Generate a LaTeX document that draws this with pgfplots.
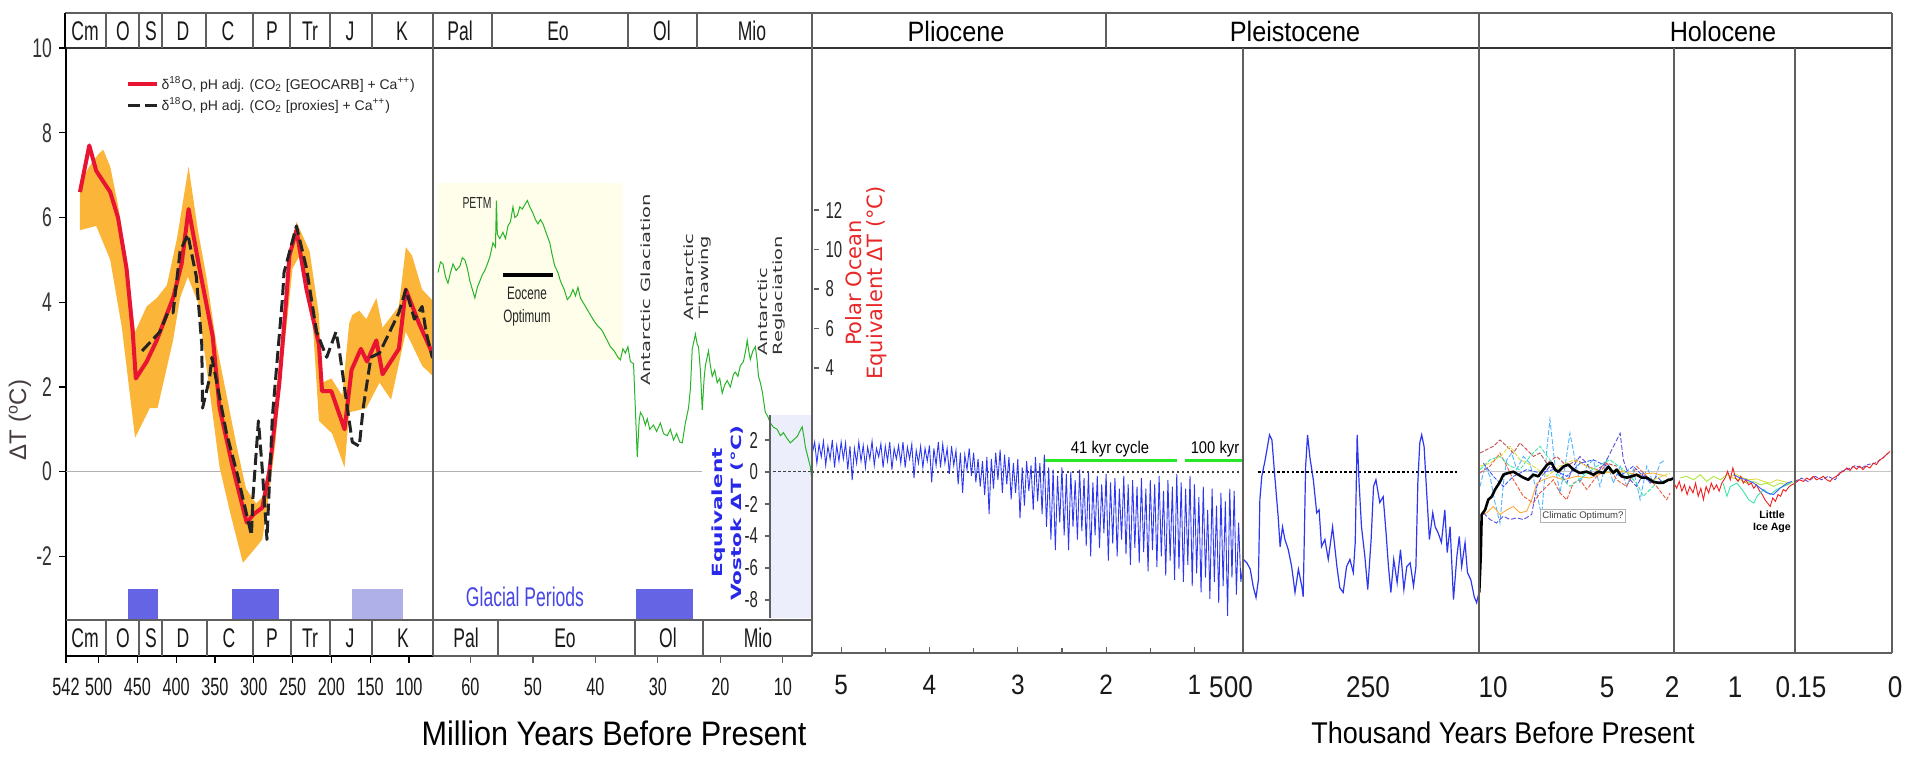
\documentclass[border=0pt]{standalone}
\usepackage{fontspec}
\setmainfont{Liberation Sans}
\newfontfamily\narrow[FakeStretch=0.65]{Liberation Sans}
\newfontfamily\med[FakeStretch=0.87]{Liberation Sans}
\newfontfamily\tit[FakeStretch=0.9]{Liberation Sans}
\newfontfamily\dejavu{DejaVu Sans}
\usepackage{graphicx}
\usepackage{pgfplots}
\pgfplotsset{compat=1.18}

\definecolor{fr}{RGB}{95,95,95}
\definecolor{redl}{RGB}{232,20,50}
\definecolor{band}{RGB}{251,182,58}
\definecolor{dashk}{RGB}{35,35,35}
\definecolor{grn}{RGB}{40,180,40}
\definecolor{glac}{RGB}{100,100,228}
\definecolor{glacl}{RGB}{176,176,232}
\definecolor{vblue}{RGB}{45,55,240}
\definecolor{ltyel}{RGB}{254,254,234}
\definecolor{ltblue}{RGB}{236,238,252}
\definecolor{lbl}{RGB}{40,40,235}
\definecolor{polred}{RGB}{232,40,40}
\definecolor{kyrg}{RGB}{40,230,40}
\definecolor{cA}{RGB}{80,180,255}
\definecolor{cB}{RGB}{190,80,80}
\definecolor{cC}{RGB}{240,90,60}
\definecolor{cD}{RGB}{255,170,60}
\definecolor{cE}{RGB}{90,80,220}
\definecolor{cF}{RGB}{60,230,170}
\definecolor{cG}{RGB}{220,220,60}
\definecolor{cH}{RGB}{60,90,255}
\definecolor{cI}{RGB}{240,30,30}
\definecolor{cJ}{RGB}{170,230,60}

\pgfplotsset{
  panel/.style={scale only axis, anchor=south west, axis x line=bottom,
    x axis line style={-, draw=fr, line width=0.7pt}, x dir=reverse,
    /pgf/number format/assume math mode=true,
    tick style={fr, line width=0.6pt}},
  noy/.style={axis y line=none, ytick=\empty},
  toppanel/.style={panel, ymin=-4.35, ymax=10, height=304pt},
  rpanel/.style={panel, noy, ymin=-4.279, ymax=10, height=302.5pt, xtick=\empty},
  canvas/.style={at={(0pt,0pt)}, anchor=south west, scale only axis, width=952.5pt, height=381pt,
    xmin=0, xmax=1905, ymin=0, ymax=762, y dir=reverse, hide axis, clip=false},
  dotz/.style={black!75, line width=0.8pt, dash pattern=on 1.2pt off 1.3pt},
  prox/.style={line width=0.45pt},
}
\tikzset{
  hdr/.style={font=\narrow\fontsize{13.5}{14}\selectfont, inner sep=0pt, text=black!90},
  big/.style={font=\med\fontsize{15}{16}\selectfont, inner sep=0pt, text=black!90},
}

\begin{document}
\begin{tikzpicture}
\path[use as bounding box] (0pt,0pt) rectangle (952.5pt,381pt);

% background fills
\begin{axis}[canvas]
\fill[ltyel] (axis cs:437,183) rectangle (axis cs:623,360);
\fill[ltblue] (axis cs:770,415) rectangle (axis cs:812,618);
\end{axis}

% ---------------- Panel 1: 542-65 Ma ----------------
\begin{axis}[toppanel, at={(33pt,53pt)}, width=183.5pt, xmin=69, xmax=542,
  axis y line=left, y axis line style={-, black, line width=1pt},
  x axis line style={-, black, line width=1pt},
  xtick={100,150,...,500,542}, ytick={-2,0,...,10}, tick align=outside, major tick length=3.5pt,
  tick style={black, line width=0.6pt},
  ticklabel style={font=\narrow\fontsize{12.5}{13}\selectfont, text=black!90},
  yticklabel style={font=\narrow\fontsize{13.5}{14}\selectfont, text=black!80},
  xticklabel style={yshift=-4pt},
  legend style={at={(0.163,0.958)}, anchor=north west, draw=none, fill=none, inner sep=0pt,
    font=\fontsize{7}{8}\selectfont, text=black!85, nodes={inner sep=1.2pt}},
  legend cell align=left,
  legend image code/.code={\draw[#1] (0pt,0pt) -- (14.5pt,0pt);}]
\addplot[forget plot, gray!60, line width=0.6pt] coordinates {(542,0) (69,0)};
\addplot[forget plot, fill=glac, draw=none] coordinates {(462,-3.49) (462,-2.76) (423.4,-2.76) (423.4,-3.49)} -- cycle;
\addplot[forget plot, fill=glac, draw=none] coordinates {(328,-3.49) (328,-2.76) (267.5,-2.76) (267.5,-3.49)} -- cycle;
\addplot[forget plot, fill=glacl, draw=none] coordinates {(173.4,-3.49) (173.4,-2.76) (107.7,-2.76) (107.7,-3.49)} -- cycle;
\addplot[forget plot, fill=band, draw=none] coordinates {
(524,6.8) (512,7.2) (500,7.5) (494,7.6) (485,7.2) (475,6.3) (464,5.0) (453,3.3) (438,3.9) (425,4.1)
(412,4.4) (399,5.5) (384,7.2) (372,5.7) (361,4.6) (348,3.0) (335,1.8) (322,0.6) (310,-0.4) (297,-0.75)
(289,-0.6) (280,0.2) (271,1.9) (258,4.3) (250,5.4) (245,5.9) (228,5.2) (216,3.7) (212,2.1) (200,2.2)
(186,1.8) (177,3.5) (173,3.7) (164,3.8) (155,3.6) (142,4.1) (134,3.4) (113,3.9) (104,5.3) (96,5.1)
(83,4.3) (70,4.05) (66,4.0)
(66,2.2) (83,2.5) (104,3.3) (123,1.7) (138,2.1) (155,1.5) (177,1.4) (183,0.1) (199,0.9) (216,1.2)
(224,3.5) (228,4.0) (241,5.1) (250,4.8) (258,3.4) (264,2.4) (272,0.7) (280,-0.5) (289,-1.6) (300,-1.85)
(314,-2.15) (330,-1.0) (344,0.1) (372,4.0) (385,4.6) (395,4.1) (404,3.1) (424,1.5) (434,1.5) (453,0.8)
(470,3.4) (485,5.0) (503,5.8) (524,5.7)} -- cycle;
\addplot[redl, line width=2pt, line join=round] coordinates {
(524,6.6) (512,7.7) (503,7.1) (485,6.6) (475,6.0) (464,4.8) (456,3.3) (452,2.2) (438,2.6) (425,3.1)
(404,4.1) (393,4.9) (384,6.2) (370,4.8) (353,3.2) (344,1.5) (327,0.1) (312,-1.0) (309,-1.2) (300,-1.0)
(289,-0.85) (280,0.0) (267,2.1) (258,4.1) (254,5.1) (245,5.7) (232,4.3) (216,3.0) (212,1.9) (200,1.9)
(183,1.0) (174,2.4) (162,2.9) (154,2.6) (142,3.1) (134,2.3) (113,2.9) (104,4.3) (87,3.5) (70,2.8) (65,2.7)};
\addlegendentry{δ\textsuperscript{18}O, pH adj. (CO\textsubscript{2} [GEOCARB] + Ca\textsuperscript{++})}
\addplot[dashk, line width=1.5pt, dash pattern=on 6pt off 2.5pt, line join=round] coordinates {
(444,2.85) (421,3.3) (411,3.75) (404,3.75) (395,5.2) (385,5.6) (374,4.6) (367,3.0) (366,1.5) (357,2.2)
(354,2.7) (335,0.9) (322,0.0) (303,-1.5) (301,-0.6) (294,1.2) (289,0.05) (283,-1.6) (276,1.3) (263,4.1)
(261,4.7) (245,5.8) (232,4.8) (219,3.3) (206,2.7) (194,3.3) (190,2.9) (177,1.2) (173,0.7) (164,0.6)
(159,1.5) (149,2.7) (138,2.8) (113,3.75) (104,4.3) (93,3.6) (83,3.9) (78,3.3) (70,2.7) (65,2.7)};
\addlegendentry{δ\textsuperscript{18}O, pH adj. (CO\textsubscript{2} [proxies] + Ca\textsuperscript{++})}
\end{axis}

% ---------------- Panel 2: 66-5.3 Ma ----------------
\begin{axis}[toppanel, noy, at={(216.5pt,53pt)}, width=189.5pt, xmin=5.33, xmax=66,
  xtick={10,20,...,60}, tick align=outside, major tick length=3.5pt,
  ticklabel style={font=\narrow\fontsize{12.5}{13}\selectfont, text=black!90},
  xticklabel style={yshift=-4pt}]
\addplot[gray!60, line width=0.6pt] coordinates {(66,0) (22.9,0)};
\addplot[dotz] coordinates {(11.5,0) (5.33,0)};
\addplot[fill=glac, draw=none] coordinates {(33.5,-3.49) (33.5,-2.76) (24.4,-2.76) (24.4,-3.49)} -- cycle;
\addplot[grn, line width=0.5pt] coordinates {
(65.2,4.7) (64.8,4.95) (64.4,4.9) (64.0,4.6) (63.6,4.45) (63.2,4.7) (62.8,4.9) (62.3,4.75) (61.7,4.85) (61.3,5.05)
(60.9,5.0) (60.5,4.8) (60.1,4.5) (59.7,4.3) (59.3,4.1) (58.9,4.35) (58.5,4.5) (58.1,4.65) (57.7,4.75) (57.3,4.9)
(56.9,5.07) (56.4,5.4) (56.0,5.3) (55.85,6.4) (55.7,5.6) (55.3,5.5) (54.8,5.65) (54.4,5.5) (54.0,5.8) (53.6,5.9)
(53.2,6.25) (52.9,6.0) (52.5,6.05) (52.1,6.25) (51.7,6.2) (51.3,6.3) (50.9,6.4) (50.5,6.25) (50.0,6.1) (49.6,5.95)
(49.2,5.85) (48.8,5.95) (48.4,5.85) (47.8,5.6) (47.3,5.4) (46.9,5.1) (46.5,4.85) (46.0,4.7) (45.6,4.5) (45.0,4.3)
(44.5,4.06) (44.0,4.15) (43.6,4.3) (43.2,4.15) (42.8,4.35) (42.4,4.1) (42.0,4.0) (41.4,3.85) (40.8,3.7) (40.4,3.6)
(39.7,3.45) (39.0,3.35) (38.3,3.15) (37.6,2.95) (37.0,2.85) (36.4,2.7) (36.0,2.64) (35.6,2.9) (35.2,2.8) (34.8,2.95)
(34.4,2.6) (33.9,2.55) (33.6,1.46) (33.3,0.35) (33.0,1.2) (32.8,1.4) (32.4,1.3) (32.0,1.1) (31.7,1.25) (31.3,1.0)
(30.7,1.1) (30.2,0.95) (29.6,1.15) (29.1,0.9) (28.5,0.85) (28.0,1.0) (27.5,0.75) (27.0,0.9) (26.5,0.7) (26.1,0.68)
(25.6,1.15) (25.1,1.5) (24.8,1.95) (24.5,2.9) (24.2,3.1) (24.0,3.25) (23.7,3.0) (23.5,2.95) (23.2,2.4) (22.9,1.46)
(22.6,2.2) (22.4,2.5) (21.9,2.85) (21.6,2.5) (21.3,2.25) (20.9,2.4) (20.5,2.1) (20.1,2.2) (19.7,1.85) (19.3,2.05)
(18.9,2.15) (18.4,2.0) (17.9,2.3) (17.6,2.35) (17.2,2.25) (16.8,2.5) (16.3,2.6) (15.9,2.9) (15.7,3.1) (15.4,2.8)
(15.2,2.65) (14.8,2.85) (14.4,2.95) (14.1,2.6) (13.9,2.25) (13.6,2.1) (13.3,1.9) (13.0,1.6) (12.8,1.4) (12.4,1.3)
(12.0,1.15) (11.5,1.05) (10.9,1.0) (10.4,0.85) (9.9,0.92) (9.4,0.8) (8.8,0.68) (8.3,0.75) (7.7,0.83) (7.3,0.95)
(6.9,1.06) (6.6,0.8) (6.4,0.59) (6.0,0.35) (5.6,0.12) (5.3,-0.26)};
\addplot[black, line width=2pt] coordinates {(54.8,4.65) (46.8,4.65)};
\end{axis}

% ---------------- Panel 3: 5.3-0.45 Ma ----------------
\begin{axis}[rpanel, at={(406pt,54.5pt)}, width=215.5pt, xmin=0.45, xmax=5.33,
  xtick={1,2,3,4,5}, minor xtick={1.5,2.5,3.5,4.5}, tick align=inside,
  major tick length=3pt, minor tick length=2.5pt,
  xticklabel style={font=\med\fontsize{14}{15}\selectfont, text=black!90, yshift=-7.5pt}]
\addplot[dotz] coordinates {(5.33,0) (0.45,0)};
\addplot[vblue, line width=0.45pt] coordinates {
(5.325,0.45) (5.300,0.70) (5.275,0.20) (5.250,0.65) (5.225,0.35) (5.200,0.72) (5.175,0.15) (5.150,0.60) (5.125,0.30) (5.100,0.75)
(5.075,0.10) (5.050,0.62) (5.025,0.25) (5.000,0.70) (4.975,0.30) (4.950,0.68) (4.925,0.05) (4.900,0.60) (4.875,-0.20) (4.850,0.55)
(4.825,0.20) (4.800,0.70) (4.775,0.25) (4.750,0.62) (4.725,0.10) (4.700,0.58) (4.675,0.30) (4.650,0.72) (4.625,0.15) (4.600,0.55)
(4.575,0.35) (4.550,0.66) (4.525,0.10) (4.500,0.60) (4.475,0.25) (4.450,0.70) (4.425,0.05) (4.400,0.55) (4.375,0.30) (4.350,0.62)
(4.325,0.20) (4.300,0.70) (4.275,0.10) (4.250,0.58) (4.225,0.30) (4.200,0.65) (4.175,-0.15) (4.150,0.50) (4.125,0.20) (4.100,0.60)
(4.075,0.10) (4.050,0.55) (4.025,0.25) (4.000,0.62) (3.975,-0.25) (3.950,0.55) (3.925,0.15) (3.900,0.70) (3.875,0.10) (3.850,0.65)
(3.825,0.20) (3.800,0.55) (3.775,-0.05) (3.750,0.60) (3.725,0.15) (3.700,0.50) (3.675,-0.30) (3.650,0.45) (3.625,-0.50) (3.600,0.40)
(3.575,0.05) (3.550,0.55) (3.525,-0.10) (3.500,0.45) (3.475,-0.25) (3.450,0.30) (3.425,-0.35) (3.400,0.25) (3.375,-0.55) (3.350,0.35)
(3.325,-1.00) (3.300,0.30) (3.275,-0.40) (3.250,0.45) (3.225,-0.20) (3.200,0.52) (3.175,-0.50) (3.150,0.40) (3.125,-0.30) (3.100,0.35)
(3.075,-0.65) (3.050,0.20) (3.025,-0.50) (3.000,0.30) (2.975,-1.10) (2.950,0.10) (2.925,-0.80) (2.900,0.25) (2.875,-0.45) (2.850,0.15)
(2.825,-0.90) (2.800,0.35) (2.775,-0.70) (2.750,0.20) (2.725,-1.00) (2.700,0.40) (2.675,-1.30) (2.650,0.10) (2.625,-1.60) (2.600,0.05)
(2.575,-1.85) (2.550,-0.10) (2.525,-1.20) (2.500,0.10) (2.475,-1.50) (2.450,-0.05) (2.425,-1.85) (2.400,0.00) (2.375,-1.30) (2.350,-0.20)
(2.325,-1.60) (2.300,0.05) (2.275,-1.40) (2.250,-0.15) (2.225,-1.75) (2.200,0.00) (2.175,-2.00) (2.150,-0.25) (2.125,-1.50) (2.100,-0.10)
(2.075,-1.80) (2.050,-0.30) (2.025,-1.45) (2.000,-0.05) (1.975,-2.10) (1.950,-0.25) (1.925,-1.70) (1.900,-0.15) (1.875,-2.00) (1.850,-0.40)
(1.825,-1.60) (1.800,-0.10) (1.775,-1.95) (1.750,-0.30) (1.725,-2.20) (1.700,-0.20) (1.675,-1.80) (1.650,-0.35) (1.625,-2.15) (1.600,-0.15)
(1.575,-1.90) (1.550,-0.40) (1.525,-2.35) (1.500,-0.20) (1.475,-1.85) (1.450,-0.30) (1.425,-2.25) (1.400,-0.10) (1.375,-2.00) (1.350,-0.45)
(1.325,-2.45) (1.300,-0.20) (1.275,-2.10) (1.250,-0.35) (1.225,-2.55) (1.200,-0.05) (1.175,-2.30) (1.150,-0.25) (1.125,-2.60) (1.100,-0.40)
(1.075,-2.20) (1.050,-0.10) (1.025,-2.70) (1.000,-0.30) (0.975,-2.40) (0.950,-0.60) (0.925,-2.85) (0.900,-0.35) (0.875,-2.50) (0.850,-0.90)
(0.825,-3.00) (0.800,-0.40) (0.775,-2.60) (0.750,-0.80) (0.725,-3.10) (0.700,-0.50) (0.675,-2.70) (0.650,-0.70) (0.625,-3.40) (0.600,-0.40)
(0.575,-2.50) (0.550,-0.45) (0.525,-2.90) (0.500,-1.20) (0.475,-2.60) (0.450,-2.20)};
\addplot[kyrg, line width=1.3pt] coordinates {(2.69,0.26) (1.197,0.26)};
\addplot[kyrg, line width=1.3pt] coordinates {(1.107,0.26) (0.45,0.26)};
\end{axis}

% ---------------- Panel 4: 500-10 kyr ----------------
\begin{axis}[rpanel, at={(621.5pt,54.5pt)}, width=118pt, xmin=10, xmax=500]
\addplot[black, line width=1.2pt, dash pattern=on 1.3pt off 1.1pt] coordinates {(469,0) (54,0)};
\addplot[vblue, line width=0.6pt] coordinates {
(499,-2.07) (492,-2.15) (485,-2.3) (479,-2.7) (473,-2.97) (468,-2.55) (465,-0.66) (461,-0.11) (454,0.28) (445,0.87)
(440,0.75) (434,-0.11) (427,-1.06) (423,-1.77) (418,-1.3) (413,-1.6) (406,-1.84) (399,-2.24) (392,-2.85) (385,-2.3)
(378,-2.7) (375,-2.95) (370,0.12) (366,0.87) (361,0.33) (354,-0.19) (347,-0.97) (342,-0.9) (337,-1.77) (330,-1.6)
(323,-2.07) (314,-1.3) (305,-2.24) (299,-2.74) (292,-2.85) (285,-2.24) (278,-2.07) (271,-2.38) (267,-1.67) (263,0.87)
(259,-0.26) (254,-1.3) (247,-2.0) (241,-2.78) (234,-1.6) (229,-0.35) (224,-0.19) (216,-0.73) (209,-0.59) (203,-1.44)
(198,-2.24) (193,-2.85) (187,-2.07) (180,-2.62) (173,-1.84) (166,-2.78) (160,-2.24) (153,-2.15) (146,-2.7) (141,-2.24)
(137,-0.26) (133,0.68) (129,0.87) (124,0.59) (119,-0.42) (113,-1.6) (106,-0.97) (101,-1.3) (95,-1.44) (88,-1.67)
(81,-0.9) (76,-1.91) (70,-1.3) (63,-3.02) (56,-2.0) (51,-1.53) (46,-2.24) (39,-1.67) (34,-2.38) (27,-2.55)
(20,-2.95) (15,-3.09) (10,-2.85)};
\end{axis}

% ---------------- Panel 5: 10-2 kyr ----------------
\begin{axis}[rpanel, at={(739.5pt,54.5pt)}, width=97.5pt, xmin=2, xmax=10]
\addplot[gray!45, line width=0.6pt] coordinates {(10,0) (2,0)};
\addplot[prox, cA, dash pattern=on 2.5pt off 1pt] coordinates {(9.96,-0.35) (9.75,0.13) (9.55,-0.11) (9.34,-0.74) (9.14,-1.21) (9.00,-0.27) (8.86,0.28) (8.66,0.44) (8.45,0.05) (8.18,0.36) (7.91,0.20) (7.63,-0.50) (7.43,-1.05) (7.22,0.52) (7.09,1.23) (6.88,0.13) (6.68,-0.50) (6.47,0.13) (6.27,0.91) (6.06,0.28) (5.86,-0.27) (5.58,0.13) (5.31,0.28) (5.04,-0.35) (4.76,0.28) (4.49,-0.27) (4.21,0.13) (3.94,-0.35) (3.67,0.05) (3.39,-0.66) (3.12,0.13) (2.85,-0.27) (2.57,0.20) (2.37,0.28)};
\addplot[prox, cB, dash pattern=on 2pt off 0.8pt] coordinates {(9.96,0.44) (9.69,0.52) (9.41,0.60) (9.14,0.75) (8.86,0.60) (8.59,0.44) (8.32,0.68) (8.04,0.52) (7.77,0.36) (7.50,0.44) (7.22,0.20) (6.81,0.36) (6.40,0.13) (5.99,0.28) (5.58,0.13) (5.17,0.05) (4.76,0.20) (4.35,0.13)};
\addplot[prox, cC, dash pattern=on 2pt off 0.8pt] coordinates {(9.96,-0.03) (9.55,0.13) (9.14,0.44) (8.86,0.13) (8.59,-0.19) (8.18,-0.58) (7.77,-0.74) (7.50,-0.50) (7.22,-0.35) (6.95,-0.19) (6.68,-0.50) (6.40,-0.66) (6.13,-0.27) (5.86,-0.19) (5.58,-0.42) (5.17,-0.11) (4.76,0.20) (4.35,-0.19) (3.94,-0.35) (3.53,0.13) (3.12,-0.11) (2.71,-0.35) (2.30,-0.66) (2.16,-0.50)};
\addplot[prox, cD] coordinates {(9.96,-1.05) (9.69,-0.97) (9.41,-0.82) (9.14,-1.01) (8.86,-0.90) (8.59,-0.82) (8.32,-0.97) (8.04,-0.93) (7.84,-0.66) (7.63,-0.27) (7.36,-0.19) (6.95,-0.11) (6.54,-0.19) (5.99,-0.11) (5.45,-0.15) (4.90,-0.03) (4.21,0.01) (3.53,-0.07) (2.85,-0.03) (2.30,-0.11)};
\addplot[prox, cE, dash pattern=on 2.5pt off 1pt] coordinates {(9.82,-0.97) (9.55,-1.13) (9.28,-1.21) (9.00,-1.05) (8.73,-1.13) (8.45,-1.09) (8.18,-1.13) (7.84,-1.01) (7.63,-0.35) (7.43,-0.11) (7.09,0.13) (6.68,-0.03) (6.40,-0.27) (6.13,0.13) (5.86,0.36) (5.58,0.20) (5.31,-0.11) (5.04,0.05) (4.76,0.28) (4.35,0.75) (4.21,0.91) (4.08,0.28) (3.80,-0.19) (3.53,-0.35) (3.26,-0.03) (2.98,-0.27) (2.71,-0.11) (2.44,-0.27)};
\addplot[prox, cF, dash pattern=on 2pt off 0.8pt] coordinates {(9.96,0.05) (9.55,0.28) (9.14,0.36) (8.73,0.13) (8.32,0.05) (7.91,0.36) (7.50,0.60) (7.09,0.28) (6.81,-0.03) (6.27,-0.35) (5.72,-0.11) (5.17,0.13) (4.63,0.28) (4.08,0.05) (3.53,-0.27) (3.26,-0.58) (2.98,-0.42) (2.71,-0.27) (2.30,-0.19)};
\addplot[prox, cG, dash pattern=on 2pt off 0.8pt] coordinates {(9.96,0.13) (9.55,0.20) (9.14,0.36) (8.73,0.60) (8.32,0.28) (7.77,0.13) (7.22,-0.11) (6.68,0.13) (6.13,0.28) (5.58,0.13) (4.90,-0.03) (4.21,0.05) (3.53,-0.11) (2.85,-0.19) (2.16,-0.03)};
\addplot[prox, cH, dash pattern=on 2pt off 0.8pt] coordinates {(9.82,0.20) (9.41,-0.11) (9.00,-0.35) (8.59,-0.11) (8.04,0.05) (7.50,-0.03) (6.95,0.05) (6.40,-0.11) (5.86,0.20) (5.31,0.28) (4.76,0.13) (4.21,-0.11) (3.67,0.13) (3.12,-0.19) (2.57,-0.27) (2.16,-0.19)};
\addplot[black, line width=1.3pt, line join=round] coordinates {
(9.99,-2.85) (9.93,-2.0) (9.89,-1.01) (9.75,-0.9) (9.62,-0.66) (9.48,-0.59) (9.34,-0.42) (9.14,-0.24) (9.00,-0.07) (8.80,-0.03)
(8.59,0.00) (8.39,-0.07) (8.18,-0.14) (7.98,-0.19) (7.77,-0.07) (7.57,-0.11) (7.36,0.05) (7.20,0.17) (7.02,0.21) (6.88,0.05)
(6.75,0.00) (6.54,0.12) (6.34,0.17) (6.13,0.05) (5.86,-0.03) (5.58,0.00) (5.31,-0.07) (5.10,0.00) (4.90,-0.03) (4.69,0.12)
(4.49,-0.03) (4.35,0.05) (4.15,-0.11) (3.94,-0.14) (3.74,-0.11) (3.53,-0.07) (3.33,-0.14) (3.12,-0.14) (2.85,-0.24) (2.64,-0.26)
(2.44,-0.26) (2.23,-0.19) (2.16,-0.19) (2.00,-0.15)};
\end{axis}

% ---------------- Panel 6: 2-0.15 kyr ----------------
\begin{axis}[rpanel, at={(837pt,54.5pt)}, width=60.5pt, xmin=0.15, xmax=2]
\addplot[gray!45, line width=0.6pt] coordinates {(2,0) (0.15,0)};
\addplot[prox, cJ] coordinates {(1.91,-0.15) (1.81,-0.11) (1.70,-0.19) (1.60,-0.07) (1.50,-0.23) (1.40,-0.11) (1.29,-0.19) (1.19,-0.07) (1.09,-0.15) (0.99,-0.19) (0.89,-0.27) (0.78,-0.23) (0.68,-0.31) (0.58,-0.27) (0.48,-0.35) (0.38,-0.27) (0.27,-0.31) (0.17,-0.23)};
\addplot[prox, cG] coordinates {(1.14,-0.11) (1.04,-0.07) (0.94,-0.15) (0.84,-0.19) (0.73,-0.17) (0.63,-0.23) (0.53,-0.27) (0.43,-0.19) (0.33,-0.23) (0.22,-0.27)};
\addplot[prox, cI] coordinates {
(2.00,-0.27) (1.96,-0.39) (1.92,-0.23) (1.88,-0.46) (1.84,-0.31) (1.80,-0.54) (1.76,-0.35) (1.71,-0.50) (1.67,-0.27) (1.63,-0.58)
(1.59,-0.39) (1.55,-0.66) (1.51,-0.35) (1.47,-0.50) (1.43,-0.27) (1.39,-0.42) (1.35,-0.31) (1.31,-0.46) (1.27,-0.27) (1.22,-0.15)
(1.18,0.01) (1.14,-0.19) (1.10,0.09) (1.06,-0.15) (1.02,-0.23) (0.98,-0.11) (0.94,-0.27) (0.90,-0.19) (0.86,-0.31) (0.82,-0.27)
(0.78,-0.39) (0.74,-0.31) (0.69,-0.46) (0.65,-0.54) (0.61,-0.66) (0.57,-0.74) (0.53,-0.82) (0.49,-0.62) (0.45,-0.70) (0.41,-0.54)
(0.37,-0.58) (0.33,-0.42) (0.29,-0.46) (0.24,-0.35) (0.20,-0.31) (0.15,-0.27)};
\addplot[prox, cF] coordinates {(1.25,-0.27) (1.19,-0.58) (1.14,-0.35) (1.04,-0.27) (0.94,-0.46) (0.86,-0.66) (0.78,-0.74) (0.73,-0.58) (0.63,-0.42) (0.53,-0.54) (0.43,-0.42) (0.33,-0.35) (0.22,-0.27)};
\addplot[prox, cH] coordinates {(1.09,-0.07) (0.99,-0.15) (0.89,-0.19) (0.78,-0.27) (0.68,-0.39) (0.58,-0.50) (0.48,-0.54) (0.38,-0.39) (0.27,-0.27) (0.20,-0.23)};
\end{axis}

% ---------------- Panel 7: 0.15-0 kyr ----------------
\begin{axis}[rpanel, at={(897.5pt,54.5pt)}, width=48.5pt, xmin=0, xmax=0.15]
\addplot[gray!45, line width=0.6pt] coordinates {(0.15,0) (0,0)};
\addplot[prox, cE, dash pattern=on 2pt off 0.8pt] coordinates {(0.150,-0.23) (0.140,-0.15) (0.130,-0.23) (0.119,-0.11) (0.109,-0.19) (0.099,-0.11) (0.088,-0.19) (0.078,0.01) (0.068,0.06) (0.057,0.14) (0.047,0.09) (0.037,0.17) (0.027,0.20) (0.016,0.30) (0.006,0.44)};
\addplot[prox, cI] coordinates {(0.150,-0.27) (0.143,-0.19) (0.137,-0.23) (0.132,-0.15) (0.127,-0.19) (0.122,-0.11) (0.117,-0.19) (0.111,-0.15) (0.106,-0.11) (0.101,-0.19) (0.096,-0.23) (0.091,-0.15) (0.086,-0.11) (0.081,-0.03) (0.075,0.01) (0.070,0.09) (0.065,0.03) (0.060,0.13) (0.055,0.06) (0.050,0.13) (0.045,0.05) (0.040,0.13) (0.034,0.09) (0.029,0.20) (0.024,0.17) (0.019,0.28) (0.014,0.32) (0.009,0.40) (0.003,0.48)};
\end{axis}

% ---------------- Vostok scale ----------------
\begin{axis}[at={(385pt,72pt)}, anchor=south west, scale only axis, width=21pt, height=101.5pt,
  xmin=0, xmax=1, ymin=-9.125, ymax=3.5625, axis y line=left, axis x line=none, xtick=\empty,
  ytick={-8,-6,...,2}, y axis line style={-, fr, line width=0.7pt}, tick align=outside,
  major tick length=2.5pt, tick style={fr, line width=0.6pt},
  yticklabel style={font=\narrow\fontsize{11.5}{12}\selectfont, text=black!85},
  /pgf/number format/assume math mode=true]
\end{axis}

% ---------------- Polar ocean scale ----------------
\begin{axis}[at={(406.25pt,173.5pt)}, anchor=south west, scale only axis, width=0.5pt, height=116pt,
  xmin=0, xmax=1, ymin=1.62, ymax=13.37, axis y line=right, axis x line=none, xtick=\empty,
  ytick={4,6,...,12}, y axis line style={-, draw=none}, tick align=outside,
  major tick length=2.5pt, tick style={fr, line width=0.6pt},
  yticklabel style={font=\narrow\fontsize{11.5}{12}\selectfont, text=black!85},
  /pgf/number format/assume math mode=true]
\end{axis}

% ---------------- frame, headers and text ----------------
\begin{axis}[canvas]
\draw[fr, line width=0.8pt] (axis cs:65,13) -- (axis cs:1892,13);
\draw[black!80, line width=1pt] (axis cs:65,48) -- (axis cs:1892,48);
\draw[black, line width=1pt] (axis cs:65,13) -- (axis cs:65,49);
\pgfplotsinvokeforeach{106,139,162,206,253,290,330,372,492,628,697,1106}{\draw[fr, line width=0.8pt] (axis cs:#1,13) -- (axis cs:#1,48);}
\pgfplotsinvokeforeach{433,812}{\draw[fr, line width=0.9pt] (axis cs:#1,13) -- (axis cs:#1,656);}
\pgfplotsinvokeforeach{1479,1892}{\draw[fr, line width=0.9pt] (axis cs:#1,13) -- (axis cs:#1,653);}
\pgfplotsinvokeforeach{1243,1674,1795}{\draw[fr, line width=0.9pt] (axis cs:#1,48) -- (axis cs:#1,653);}
\draw[fr, line width=0.8pt] (axis cs:66,620) -- (axis cs:812,620);
\pgfplotsinvokeforeach{106,139,162,207,253,291,330,372,498,635,703}{\draw[fr, line width=0.8pt] (axis cs:#1,620) -- (axis cs:#1,656);}
\draw[fr, line width=0.7pt] (axis cs:812,653) -- (axis cs:1892,653);
% header labels
\node[hdr] at (axis cs:85,31) {Cm};
\node[hdr] at (axis cs:123,31) {O};
\node[hdr] at (axis cs:151,31) {S};
\node[hdr] at (axis cs:183,31) {D};
\node[hdr] at (axis cs:228,31) {C};
\node[hdr] at (axis cs:272,31) {P};
\node[hdr] at (axis cs:310,31) {Tr};
\node[hdr] at (axis cs:350,31) {J};
\node[hdr] at (axis cs:402,31) {K};
\node[hdr] at (axis cs:460,31) {Pal};
\node[hdr] at (axis cs:558,31) {Eo};
\node[hdr] at (axis cs:662,31) {Ol};
\node[hdr] at (axis cs:752,31) {Mio};
\node[font=\tit\fontsize{14}{15}\selectfont, inner sep=0pt] at (axis cs:956,31) {Pliocene};
\node[font=\tit\fontsize{14}{15}\selectfont, inner sep=0pt] at (axis cs:1295,31) {Pleistocene};
\node[font=\tit\fontsize{14}{15}\selectfont, inner sep=0pt] at (axis cs:1723,31) {Holocene};
% bottom period labels
\node[hdr] at (axis cs:85,638) {Cm};
\node[hdr] at (axis cs:123,638) {O};
\node[hdr] at (axis cs:151,638) {S};
\node[hdr] at (axis cs:183,638) {D};
\node[hdr] at (axis cs:229,638) {C};
\node[hdr] at (axis cs:272,638) {P};
\node[hdr] at (axis cs:310,638) {Tr};
\node[hdr] at (axis cs:350,638) {J};
\node[hdr] at (axis cs:403,638) {K};
\node[hdr] at (axis cs:466,638) {Pal};
\node[hdr] at (axis cs:565,638) {Eo};
\node[hdr] at (axis cs:668,638) {Ol};
\node[hdr] at (axis cs:758,638) {Mio};
% tick labels of the kyr panels
\node[big] at (axis cs:1231,687) {500};
\node[big] at (axis cs:1368,687) {250};
\node[big] at (axis cs:1493,687) {10};
\node[big] at (axis cs:1607,687) {5};
\node[big] at (axis cs:1672,687) {2};
\node[big] at (axis cs:1735,687) {1};
\node[big] at (axis cs:1801,687) {0.15};
\node[big] at (axis cs:1895,687) {0};
% axis titles
\node[font=\tit\fontsize{17}{18}\selectfont, inner sep=0pt] at (axis cs:614,733) {Million Years Before Present};
\node[font=\tit\fontsize{15}{16}\selectfont, inner sep=0pt] at (axis cs:1503,733) {Thousand Years Before Present};
\node[rotate=90, font=\fontsize{12}{13}\selectfont, text={rgb,255:red,70;green,60;blue,60}, inner sep=0pt] at (axis cs:20,420) {ΔT (\textsuperscript{o}C)};
% annotations panel 2
\node[font=\narrow\fontsize{8}{9}\selectfont, inner sep=0pt, text=black!85] at (axis cs:477,203) {PETM};
\node[font=\narrow\fontsize{9}{11.5}\selectfont, inner sep=0pt, align=center, text=black!85] at (axis cs:527,307) {Eocene\\Optimum};
\node[rotate=90, inner sep=0pt, text=black!80] at (axis cs:646,290) {\scalebox{1}[0.65]{\dejavu\fontsize{9.75}{11}\selectfont Antarctic Glaciation}};
\node[rotate=90, inner sep=0pt, text=black!80] at (axis cs:698,277) {\scalebox{1}[0.65]{\dejavu\fontsize{9.75}{11}\selectfont\begin{tabular}{@{}c@{}}Antarctic\\Thawing\end{tabular}}};
\node[rotate=90, anchor=west, inner sep=0pt, text=black!80] at (axis cs:772,356) {\scalebox{1}[0.65]{\dejavu\fontsize{9.75}{11}\selectfont\begin{tabular}{@{}l@{}}Antarctic\\Reglaciation\end{tabular}}};
\node[font=\narrow\fontsize{13.5}{14}\selectfont, inner sep=0pt, text={rgb,255:red,70;green,70;blue,230}] at (axis cs:525,597) {Glacial Periods};
\node[rotate=90, inner sep=0pt, text=lbl] at (axis cs:728,513) {\scalebox{1}[0.65]{\dejavu\bfseries\fontsize{10.8}{15}\selectfont\begin{tabular}{@{}c@{}}Equivalent\\Vostok ΔT (°C)\end{tabular}}};
\node[rotate=90, inner sep=0pt, text=polred] at (axis cs:867,283) {\dejavu\fontsize{10.5}{9.5}\selectfont\begin{tabular}{@{}c@{}}Polar Ocean\\Equivalent ΔT (°C)\end{tabular}};
% panel 3 annotations
\node[font=\med\fontsize{8.5}{9}\selectfont, inner sep=0pt] at (axis cs:1110,449) {41 kyr cycle};
\node[font=\med\fontsize{8.5}{9}\selectfont, inner sep=0pt] at (axis cs:1215,449) {100 kyr};
% holocene annotations
\node[draw=gray!60, line width=0.3pt, fill=white, inner sep=1pt, font=\fontsize{4.8}{5}\selectfont, text=black!75] at (axis cs:1583,516) {Climatic Optimum?};
\node[font=\bfseries\fontsize{5.3}{5.9}\selectfont, align=center, inner sep=0pt] at (axis cs:1772,522) {Little\\Ice Age};
\end{axis}
\end{tikzpicture}
\end{document}
